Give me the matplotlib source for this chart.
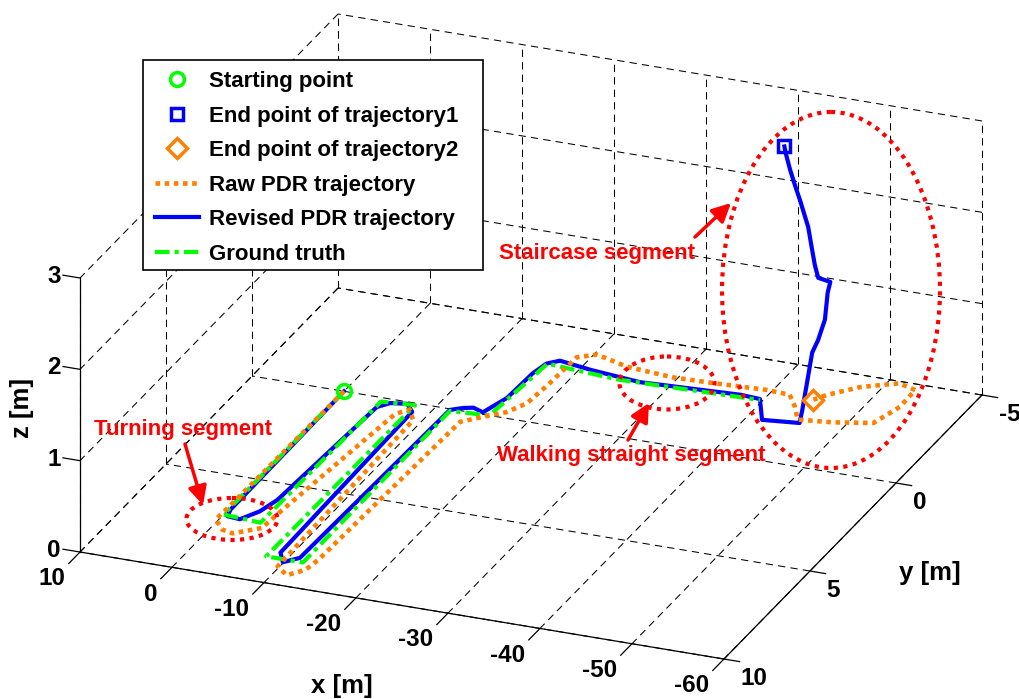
import numpy as np
import matplotlib
matplotlib.use('Agg')
import matplotlib.pyplot as plt
from matplotlib.patches import Ellipse, FancyArrowPatch, Rectangle
from matplotlib.transforms import Affine2D, IdentityTransform

plt.rcParams['font.family'] = ['Liberation Sans', 'DejaVu Sans']
plt.rcParams['font.weight'] = 'bold'

# axis ticks [m]
x_ticks = [10, 0, -10, -20, -30, -40, -50, -60]
y_ticks = [-5, 0, 5, 10]
z_ticks = [0, 1, 2, 3]

# ground truth (floor only)
gt_x = [0.0, 0.0, -4.2, -4.4, -7.9, -7.8, -11.8, -11.7, -15.8, -16.5, -24.5, -39.7]
gt_y = [0.0, 7.0, 7.1, 0.2, 0.1, 8.7, 8.7, 0.1, 0.0, -3.0, -2.8, -2.95]

# revised PDR trajectory, floor part then the two stair flights
rev_x = [0.0, -0.2, -0.5, -1.95, -3.1, -3.7, -4.5, -5.4, -7.05, -8.25,
         -8.8, -9.9, -11.1, -11.6, -12.65, -13.6, -14.9, -15.85, -16.0, -16.4,
         -17.4, -21.1, -26.8, -37.4, -39.6, -41.7, -45.5,
         -45.8, -46.3, -46.5, -47.15, -47.6, -47.9, -48.0,
         -46.5, -45.85, -45.6, -45.5, -44.8, -44.4, -44.0, -43.7, -43.85]
rev_y = [0.0, 6.7, 7.05, 7.1, 6.55, 5.85, 0.5, 0.2, 0.1, 0.45,
         8.4, 8.85, 8.5, 0.05, -0.15, -0.25, -0.1, -1.0, -2.4, -3.0,
         -3.25, -3.05, -2.85, -3.05, -3.0, -2.0, -2.15,
         -2.15, -2.15, -2.35, -2.35, -2.5, -2.5, -2.6,
         -2.7, -2.85, -2.8, -2.65, -2.55, -2.5, -2.4, -2.3, -2.15]
rev_z = [0.0, 0.0, 0.0, 0.0, 0.0, 0.0, 0.0, 0.0, 0.0, 0.0,
         0.0, 0.0, 0.0, 0.0, 0.0, 0.0, 0.0, 0.0, 0.0, 0.0,
         0.0, 0.0, 0.0, 0.0, 0.0, 0.0, 0.0,
         0.15, 0.45, 0.75, 0.9, 1.1, 1.4, 1.5,
         1.5, 1.6, 1.8, 2.05, 2.35, 2.5, 2.7, 2.9, 3.0]

# raw PDR trajectory (no height estimate)
raw_x = [0.0, 0.2, 0.3, -1.25, -2.55, -4.8, -5.05, -6.85, -7.8, -9.1,
         -9.8, -11.45, -12.7, -13.0, -13.65, -15.8, -17.1, -18.2, -18.5, -18.65,
         -20.3, -24.2, -29.5, -33.75, -36.6, -39.4, -42.0, -43.6, -45.0, -48.5,
         -52.4, -53.4, -53.3, -51.2, -47.9, -45.5, -44.65]
raw_y = [0.0, 6.6, 7.3, 7.75, 7.85, 7.35, 6.4, 0.7, 0.35, 0.85,
         9.1, 9.45, 9.05, 8.45, 0.55, 0.0, -0.3, -0.9, -2.1, -3.55,
         -3.85, -3.5, -3.35, -3.4, -3.45, -3.5, -3.45, -2.9, -2.3, -2.45,
         -2.75, -3.75, -4.7, -4.9, -4.4, -3.75, -3.4]

W, H = 1020, 699
green = '#00ff00'
blue = '#0000ff'
orange = '#ff8000'
red = '#ff0000'

fig = plt.figure(figsize=(W / 100, H / 100), dpi=100)
ax = fig.add_axes([0.05, 0.05, 0.9, 0.9], projection='3d', proj_type='ortho')
ax.view_init(elev=24.35, azim=111.95)
ax.set_box_aspect((694.3, 690.4, 300.8))
ax.set_xlim(-60, 10)
ax.set_ylim(-5, 10)
ax.set_zlim(0, 3)
ax.set_xticks([])
ax.set_yticks([])
ax.set_zticks([])
ax.set_axis_off()
ax.computed_zorder = False
# the built-in 3D decorations are replaced by the lines drawn below
for t in (ax.title, ax._left_title, ax._right_title):
    t.set_visible(False)
for a in (ax.xaxis, ax.yaxis, ax.zaxis):
    a.label.set_visible(False)
    a.offsetText.set_visible(False)

xmin, xmax = min(x_ticks), max(x_ticks)
ymin, ymax = min(y_ticks), max(y_ticks)
zmin, zmax = min(z_ticks), max(z_ticks)

# dashed grid on the floor and on the two back walls
grid_kw = dict(color='k', lw=0.75, ls=(0, (7, 5)), zorder=1)
for xv in x_ticks:
    ax.plot([xv, xv], [ymin, ymax], [zmin, zmin], **grid_kw)
    ax.plot([xv, xv], [ymin, ymin], [zmin, zmax], **grid_kw)
for yv in y_ticks:
    ax.plot([xmin, xmax], [yv, yv], [zmin, zmin], **grid_kw)
    ax.plot([xmax, xmax], [yv, yv], [zmin, zmax], **grid_kw)
for zv in z_ticks:
    ax.plot([xmin, xmax], [ymin, ymin], [zv, zv], **grid_kw)
    ax.plot([xmax, xmax], [ymin, ymax], [zv, zv], **grid_kw)

# solid axis lines and tick marks
axis_kw = dict(color='k', lw=0.9, zorder=2)
ax.plot([xmin, xmax], [ymax, ymax], [zmin, zmin], **axis_kw)
ax.plot([xmin, xmin], [ymin, ymax], [zmin, zmin], **axis_kw)
ax.plot([xmax, xmax], [ymax, ymax], [zmin, zmax], **axis_kw)
for xv in x_ticks:
    ax.plot([xv, xv], [ymax, ymax + 0.65], [zmin, zmin], **axis_kw)
for yv in y_ticks:
    ax.plot([xmin, xmin - 1.7], [yv, yv], [zmin, zmin], **axis_kw)
for zv in z_ticks:
    ax.plot([xmax, xmax + 1.85], [ymax, ymax], [zv, zv], **axis_kw)

# trajectories
h_rev, = ax.plot(rev_x, rev_y, rev_z, color=blue, lw=3.0, zorder=3,
                 solid_joinstyle='round', label='Revised PDR trajectory')
h_gt, = ax.plot(gt_x, gt_y, np.zeros(len(gt_x)), color=green, lw=3.0,
                ls=(0, (3.5, 1.2, 1, 1.2)), zorder=4, label='Ground truth')
h_raw, = ax.plot(raw_x, raw_y, np.zeros(len(raw_x)), color=orange, lw=3.3,
                 ls=(0, (1, 1)), zorder=5, label='Raw PDR trajectory')

h_start, = ax.plot(gt_x[:1], gt_y[:1], [0], 'o', ms=10, mfc='none', mec=green,
                   mew=2.5, zorder=6, label='Starting point')
h_end1, = ax.plot(rev_x[-1:], rev_y[-1:], rev_z[-1:], 's', ms=9, mfc='none', mec=blue,
                  mew=2.5, zorder=6, label='End point of trajectory1')
h_end2, = ax.plot(raw_x[-1:], raw_y[-1:], [0], 'D', ms=10, mfc='none', mec=orange,
                  mew=2.5, zorder=6, label='End point of trajectory2')


def to_display(xs, ys, zs):
    p = np.column_stack([xs, ys, zs, np.ones(len(xs))]) @ ax.get_proj().T
    return ax.transData.transform(p[:, :2] / p[:, 3:4])


# fit the projected box to its place in the figure (pixels, origin bottom left)
fig.canvas.draw()
pts = to_display([xmax, xmin, xmin, xmax], [ymax, ymin, ymax, ymin],
                 [zmin, zmin, zmin, zmax])
bb = ax.bbox
u = (pts[:, 0] - bb.x0) / bb.width
v = (pts[:, 1] - bb.y0) / bb.height
size = (982 - 80) / (u[1] - u[0])
x0 = 80 - u[0] * size
y0 = ((H - 659 - v[2] * size) + (H - 14 - v[3] * size)) / 2
ax.set_position([x0 / W, y0 / H, size / W, size / H])

# tick labels, placed at their projected anchor points
tick_font = dict(fontsize=17.5, fontweight='bold', transform=IdentityTransform())
n = len(x_ticks)
for (dx, dy), xv in zip(to_display(x_ticks, [ymax + 0.85] * n, [zmin - 0.13] * n), x_ticks):
    fig.text(dx, dy, str(xv), ha='right', va='center', **tick_font)
n = len(y_ticks)
for (dx, dy), yv in zip(to_display([xmin - 1.8] * n, y_ticks, [zmin - 0.18] * n), y_ticks):
    fig.text(dx, dy, str(yv), ha='left', va='center', **tick_font)
n = len(z_ticks)
for (dx, dy), zv in zip(to_display([xmax + 2.1] * n, [ymax] * n, np.array(z_ticks) - 0.02), z_ticks):
    fig.text(dx, dy, str(zv), ha='right', va='center', **tick_font)

# pixel coordinates measured from the top left corner
px = Affine2D().scale(1 / W, -1 / H).translate(0, 1) + fig.transFigure

# legend with a plain black frame
fig.add_artist(Rectangle((143, 60), 340, 210, transform=px, facecolor='white',
                         edgecolor='k', lw=1.2, zorder=4))
fig.legend(handles=[h_start, h_end1, h_end2, h_raw, h_rev, h_gt],
           loc='upper left', bbox_to_anchor=(155 / W, 1 - 71 / H),
           bbox_transform=fig.transFigure, frameon=False, fontsize=16,
           handlelength=2.0, handletextpad=0.45, labelspacing=0.61,
           borderpad=0, borderaxespad=0, numpoints=1).set_zorder(5)

# annotations
ell_kw = dict(fill=False, edgecolor=red, lw=3.0, ls=(0, (1, 1.3)), transform=px)
fig.add_artist(Ellipse((232, 519), 91, 42, **ell_kw))
fig.add_artist(Ellipse((667, 383), 95, 53, **ell_kw))
fig.add_artist(Ellipse((831, 290), 218, 356, **ell_kw))

arrow_kw = dict(arrowstyle='-|>', color=red, lw=2.5, mutation_scale=28,
                shrinkA=0, shrinkB=0, transform=px)
note_font = dict(fontsize=16, fontweight='bold', color=red, ha='center',
                 va='center', transform=px)
fig.text(183, 430, 'Turning segment', **note_font)
fig.add_artist(FancyArrowPatch((185, 444), (203, 505), **arrow_kw))
fig.text(631, 456, 'Walking straight segment', **note_font)
fig.add_artist(FancyArrowPatch((628, 440), (649, 403), **arrow_kw))
fig.text(597, 253, 'Staircase segment', **note_font)
fig.add_artist(FancyArrowPatch((695, 237), (731, 203), **arrow_kw))

label_font = dict(fontsize=18.5, fontweight='bold', ha='center', va='center',
                  transform=px)
fig.text(342, 686, 'x [m]', **label_font)
fig.text(930, 573, 'y [m]', **label_font)
fig.text(22, 408, 'z [m]', rotation=90, **label_font)

fig.savefig('out.png', dpi=100)
